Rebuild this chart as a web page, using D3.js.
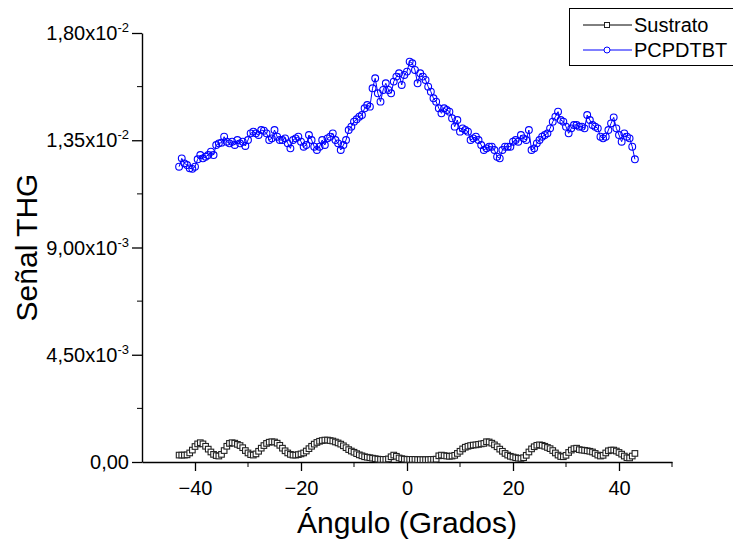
<!DOCTYPE html>
<html>
<head>
<meta charset="utf-8">
<script src="https://cdn.jsdelivr.net/npm/d3@7"></script>
<style>
  body { margin: 0; background: #fff; }
  svg text { font-family: "Liberation Sans", Arial, sans-serif; fill: #000; }
</style>
</head>
<body>
<svg id="chart" width="733" height="541"></svg>
<script>
// Angle samples (degrees)
const angles = [
  -43, -42.5, -42, -41.5, -41, -40.5, -40, -39.5, -39, -38.5,
  -38, -37.5, -37, -36.5, -36, -35.5, -35, -34.5, -34, -33.5,
  -33, -32.5, -32, -31.5, -31, -30.5, -30, -29.5, -29, -28.5,
  -28, -27.5, -27, -26.5, -26, -25.5, -25, -24.5, -24, -23.5,
  -23, -22.5, -22, -21.5, -21, -20.5, -20, -19.5, -19, -18.5,
  -18, -17.5, -17, -16.5, -16, -15.5, -15, -14.5, -14, -13.5,
  -13, -12.5, -12, -11.5, -11, -10.5, -10, -9.5, -9, -8.5,
  -8, -7.5, -7, -6.5, -6, -5.5, -5, -4.5, -4, -3.5,
  -3, -2.5, -2, -1.5, -1, -0.5, 0, 0.5, 1, 1.5,
  2, 2.5, 3, 3.5, 4, 4.5, 5, 5.5, 6, 6.5,
  7, 7.5, 8, 8.5, 9, 9.5, 10, 10.5, 11, 11.5,
  12, 12.5, 13, 13.5, 14, 14.5, 15, 15.5, 16, 16.5,
  17, 17.5, 18, 18.5, 19, 19.5, 20, 20.5, 21, 21.5,
  22, 22.5, 23, 23.5, 24, 24.5, 25, 25.5, 26, 26.5,
  27, 27.5, 28, 28.5, 29, 29.5, 30, 30.5, 31, 31.5,
  32, 32.5, 33, 33.5, 34, 34.5, 35, 35.5, 36, 36.5,
  37, 37.5, 38, 38.5, 39, 39.5, 40, 40.5, 41, 41.5,
  42, 42.5, 43
];

// THG signal, in units of 1e-3
const sustrato = [
  0.29, 0.29, 0.29, 0.30, 0.38, 0.50, 0.65, 0.76, 0.81, 0.76,
  0.66, 0.54, 0.42, 0.32, 0.27, 0.25, 0.32, 0.48, 0.66, 0.78,
  0.81, 0.79, 0.74, 0.69, 0.60, 0.48, 0.38, 0.31, 0.29, 0.34,
  0.45, 0.58, 0.69, 0.78, 0.83, 0.85, 0.84, 0.79, 0.70, 0.58,
  0.47, 0.38, 0.32, 0.29, 0.29, 0.31, 0.34, 0.38, 0.46, 0.56,
  0.66, 0.75, 0.82, 0.87, 0.90, 0.92, 0.92, 0.90, 0.88, 0.84,
  0.80, 0.75, 0.68, 0.60, 0.52, 0.46, 0.41, 0.35, 0.30, 0.26,
  0.22, 0.20, 0.18, 0.16, 0.14, 0.12, 0.11, 0.11, 0.11, 0.13,
  0.22, 0.29, 0.24, 0.17, 0.14, 0.12, 0.11, 0.11, 0.11, 0.11,
  0.10, 0.10, 0.10, 0.10, 0.10, 0.11, 0.11, 0.12, 0.26, 0.29,
  0.27, 0.25, 0.24, 0.25, 0.28, 0.36, 0.45, 0.55, 0.62, 0.66,
  0.69, 0.71, 0.72, 0.74, 0.76, 0.78, 0.85, 0.84, 0.79, 0.72,
  0.64, 0.54, 0.45, 0.36, 0.29, 0.24, 0.21, 0.18, 0.16, 0.15,
  0.18, 0.28, 0.42, 0.55, 0.64, 0.70, 0.72, 0.70, 0.66, 0.61,
  0.56, 0.48, 0.38, 0.29, 0.23, 0.22, 0.28, 0.40, 0.50, 0.56,
  0.58, 0.52, 0.50, 0.49, 0.47, 0.45, 0.42, 0.36, 0.29, 0.25,
  0.28, 0.38, 0.47, 0.50, 0.50, 0.46, 0.40, 0.33, 0.25, 0.18,
  0.17, 0.25, 0.36
];

const pcpdtbt = [
  12.39, 12.74, 12.53, 12.46, 12.32, 12.30, 12.39, 12.70, 12.88, 12.74,
  12.81, 12.88, 13.02, 12.88, 13.30, 13.37, 13.40, 13.65, 13.44, 13.37,
  13.44, 13.30, 13.51, 13.37, 13.44, 13.26, 13.51, 13.79, 13.86, 13.79,
  13.72, 13.93, 13.90, 13.79, 13.51, 13.58, 13.93, 13.65, 13.51, 13.51,
  13.58, 13.37, 13.16, 13.51, 13.58, 13.65, 13.44, 13.23, 13.30, 13.72,
  13.51, 13.23, 13.09, 13.23, 13.51, 13.30, 13.58, 13.65, 13.79, 13.51,
  13.37, 13.09, 13.30, 13.51, 13.93, 14.07, 14.28, 14.38, 14.49, 14.56,
  14.84, 14.98, 14.91, 15.68, 16.10, 15.47, 15.12, 15.61, 15.89, 15.61,
  15.47, 15.96, 16.17, 16.31, 15.82, 16.24, 16.38, 16.80, 16.73, 16.45,
  15.89, 16.31, 16.17, 16.03, 15.75, 15.54, 15.26, 15.12, 14.84, 14.63,
  14.84, 14.77, 14.70, 14.42, 14.07, 14.35, 13.86, 14.00, 13.93, 13.86,
  13.51, 13.58, 13.65, 13.51, 13.30, 13.09, 13.16, 13.23, 13.23, 13.09,
  12.81, 12.74, 13.09, 13.23, 13.23, 13.23, 13.44, 13.51, 13.44, 13.72,
  13.58, 13.51, 13.93, 13.09, 13.16, 13.37, 13.51, 13.65, 13.72, 13.79,
  14.00, 14.28, 14.49, 14.70, 14.35, 14.28, 14.07, 13.79, 14.00, 14.14,
  14.14, 14.07, 14.07, 14.00, 14.56, 14.35, 14.14, 14.07, 14.00, 13.65,
  13.58, 13.65, 13.93, 14.21, 14.46, 14.00, 13.72, 13.44, 13.79, 13.65,
  13.58, 13.23, 12.70
];

// Axis ticks and labels
const xMajor = [-40, -20, 0, 20, 40];
const xMinor = [-30, -10, 10, 30, 50];
const yMajor = [0, 4.5, 9, 13.5, 18];
const yMinor = [2.25, 6.75, 11.25, 15.75];
const yLabels = [["0,00", ""], ["4,50x10", "-3"], ["9,00x10", "-3"], ["1,35x10", "-2"], ["1,80x10", "-2"]];

const seriesNames = ["Sustrato", "PCPDTBT"];

const svg = d3.select("#chart");

const x = d3.scaleLinear().domain([-50, 50]).range([142, 672]);
const y = d3.scaleLinear().domain([0, 18]).range([462, 33]);

// Axes
const xAxis = svg.append("g").attr("transform", `translate(0,${y(0)})`)
    .call(d3.axisBottom(x).tickValues(xMajor).tickSize(9).tickSizeOuter(0).tickPadding(10)
        .tickFormat(d3.format("d")));
xAxis.append("g").selectAll("line").data(xMinor).join("line")
    .attr("x1", d => x(d)).attr("x2", d => x(d))
    .attr("y1", 0).attr("y2", 5).attr("stroke", "#000");

const yAxis = svg.append("g").attr("transform", `translate(${x(-50)},0)`)
    .call(d3.axisLeft(y).tickValues(yMajor).tickSize(10).tickSizeOuter(0)
        .tickFormat(""));
yAxis.append("g").selectAll("line").data(yMinor).join("line")
    .attr("x1", 0).attr("x2", -5)
    .attr("y1", d => y(d)).attr("y2", d => y(d)).attr("stroke", "#000");

svg.selectAll(".domain").attr("stroke", "#000").attr("stroke-width", 1.4);
svg.selectAll(".tick line").attr("stroke", "#000").attr("stroke-width", 1.3);
xAxis.selectAll(".tick text").attr("font-size", 20).attr("font-family", "Liberation Sans, Arial, sans-serif");

// y tick labels with superscript exponent
const yText = svg.append("g").selectAll("text").data(yMajor).join("text")
    .attr("x", 129)
    .attr("y", d => y(d) + 7)
    .attr("text-anchor", "end")
    .attr("font-size", 20);
yText.each(function(d, i) {
    const t = d3.select(this);
    t.append("tspan").text(yLabels[i][0]);
    if (yLabels[i][1]) {
        t.append("tspan").attr("dy", -8).attr("font-size", 13).text(yLabels[i][1]);
    }
});

// Axis titles
svg.append("text")
    .attr("transform", `translate(37,${y(9)}) rotate(-90)`)
    .attr("text-anchor", "middle")
    .attr("font-size", 30)
    .text("Señal THG");
svg.append("text")
    .attr("x", x(0)).attr("y", 533)
    .attr("text-anchor", "middle")
    .attr("font-size", 30)
    .text("Ángulo (Grados)");

// Series
const subData = angles.map((a, i) => ({a: a, v: sustrato[i]}));
const pcData = angles.map((a, i) => ({a: a, v: pcpdtbt[i]}));
const line = d3.line().x(d => x(d.a)).y(d => y(d.v));

svg.append("path").datum(subData).attr("d", line)
    .attr("fill", "none").attr("stroke", "#000").attr("stroke-width", 1);
svg.append("g").selectAll("rect").data(subData).join("rect")
    .attr("x", d => x(d.a) - 2.8).attr("y", d => y(d.v) - 2.8)
    .attr("width", 5.6).attr("height", 5.6)
    .attr("fill", "#fff").attr("stroke", "#222").attr("stroke-width", 1.1);

svg.append("path").datum(pcData).attr("d", line)
    .attr("fill", "none").attr("stroke", "#0000ff").attr("stroke-width", 1);
svg.append("g").selectAll("circle").data(pcData).join("circle")
    .attr("cx", d => x(d.a)).attr("cy", d => y(d.v)).attr("r", 3.4)
    .attr("fill", "none").attr("stroke", "#0000ff").attr("stroke-width", 1.1);

// Legend
const legend = svg.append("g");
legend.append("rect").attr("x", 569.5).attr("y", 8.5).attr("width", 180).attr("height", 57)
    .attr("fill", "#fff").attr("stroke", "#000").attr("stroke-width", 1);
const items = legend.selectAll("g").data(seriesNames).join("g")
    .attr("transform", (d, i) => `translate(0,${25 + i * 25})`);
items.append("line").attr("x1", 583).attr("x2", 632).attr("y1", 0).attr("y2", 0)
    .attr("stroke", (d, i) => i === 0 ? "#000" : "#0000ff");
items.filter((d, i) => i === 0).append("rect")
    .attr("x", 604.5).attr("y", -2.5).attr("width", 5).attr("height", 5)
    .attr("fill", "#fff").attr("stroke", "#222");
items.filter((d, i) => i === 1).append("circle")
    .attr("cx", 607).attr("cy", 0).attr("r", 3)
    .attr("fill", "#fff").attr("stroke", "#0000ff");
items.append("text").attr("x", 634).attr("y", 7).attr("font-size", 20).text(d => d);
</script>
</body>
</html>
